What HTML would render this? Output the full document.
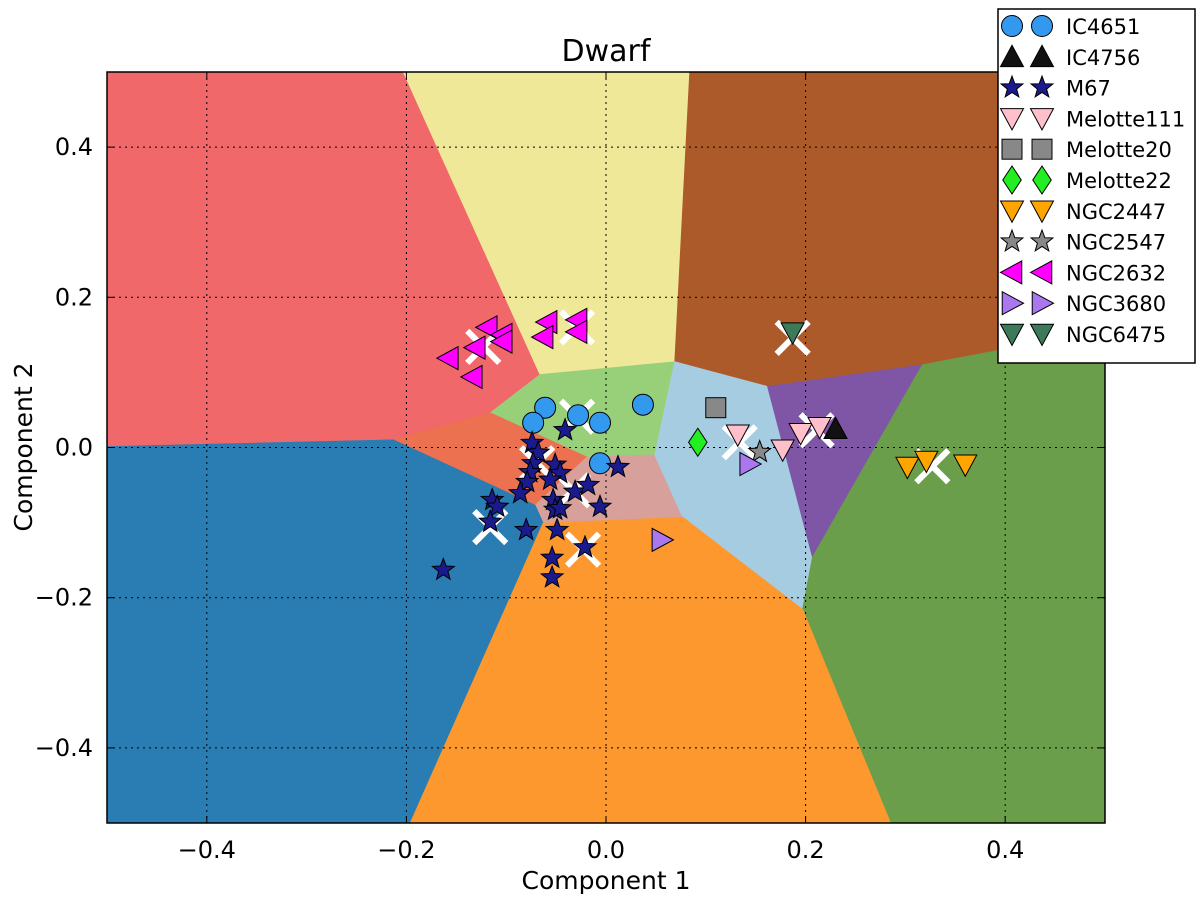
<!DOCTYPE html>
<html><head><meta charset="utf-8"><style>
html,body{margin:0;padding:0;background:#fff;}
svg{display:block;font-family:"DejaVu Sans","Liberation Sans",sans-serif;}
</style></head><body>
<svg id="chart" width="1200" height="899" viewBox="0 0 1200 899"></svg>
<script>
const xTicks=[-0.4,-0.2,0.0,0.2,0.4];
const yTicks=[-0.4,-0.2,0.0,0.2,0.4];
const xTickLabels=["\u22120.4","\u22120.2","0.0","0.2","0.4"];
const yTickLabels=["\u22120.4","\u22120.2","0.0","0.2","0.4"];
const regionNames=["red","yellow","brown","light-green","dark-orange","rosy","light-blue","purple","olive","blue","orange"];
const regionColors=["#f0686a","#f0e899","#ad5a2a","#98d07a","#ec7150","#d8a09a","#a6cce2","#7f55a6","#6a9e4a","#2a7db2","#fd982e"];
const regionVerts=[
 [[-0.5,0.5],[-0.203,0.5],[-0.066,0.097],[-0.116,0.046],[-0.213,0.010],[-0.5,0.001]],
 [[-0.203,0.5],[0.084,0.5],[0.069,0.114],[-0.066,0.097]],
 [[0.084,0.5],[0.5,0.5],[0.5,0.156],[0.317,0.110],[0.162,0.081],[0.069,0.114]],
 [[-0.066,0.097],[0.069,0.114],[0.049,-0.010],[-0.019,-0.013],[-0.116,0.046]],
 [[-0.213,0.010],[-0.116,0.046],[-0.019,-0.013],[-0.071,-0.077]],
 [[-0.019,-0.013],[0.049,-0.010],[0.077,-0.093],[-0.063,-0.101],[-0.071,-0.077]],
 [[0.069,0.114],[0.162,0.081],[0.207,-0.146],[0.197,-0.216],[0.077,-0.093],[0.049,-0.010]],
 [[0.162,0.081],[0.317,0.110],[0.207,-0.146]],
 [[0.317,0.110],[0.5,0.156],[0.5,-0.5],[0.285,-0.5],[0.197,-0.216],[0.207,-0.146]],
 [[-0.5,0.001],[-0.213,0.010],[-0.071,-0.077],[-0.063,-0.101],[-0.196,-0.5],[-0.5,-0.5]],
 [[-0.063,-0.101],[0.077,-0.093],[0.197,-0.216],[0.285,-0.5],[-0.196,-0.5]]
];
const seriesNames=["IC4651","IC4756","M67","Melotte111","Melotte20","Melotte22","NGC2447","NGC2547","NGC2632","NGC3680","NGC6475"];
const seriesShapes=["circle","tri-up","star","tri-down","square","diamond","tri-down","star","tri-left","tri-right","tri-down"];
const seriesColors=["#3399ee","#111111","#1a1a8c","#ffc0cb","#888888","#22ee22","#ffa500","#888888","#ff00ff","#aa77ee","#3d7a5a"];
const ic4651X=[-0.061,-0.073,-0.028,-0.006,0.037,-0.006];
const ic4651Y=[0.053,0.033,0.043,0.033,0.057,-0.021];
const ic4756X=[0.230];
const ic4756Y=[0.025];
const m67X=[-0.041,-0.074,-0.068,-0.073,-0.076,-0.079,-0.086,-0.051,-0.046,-0.056,-0.031,-0.018,-0.006,0.012,-0.053,-0.051,-0.046,-0.049,-0.021,-0.054,-0.054,-0.114,-0.109,-0.116,-0.080,-0.163];
const m67Y=[0.023,0.006,-0.007,-0.021,-0.033,-0.046,-0.061,-0.023,-0.034,-0.043,-0.059,-0.050,-0.079,-0.026,-0.070,-0.083,-0.081,-0.110,-0.133,-0.147,-0.173,-0.070,-0.079,-0.099,-0.110,-0.163];
const mel111X=[0.132,0.177,0.195,0.214];
const mel111Y=[0.017,-0.003,0.019,0.027];
const mel20X=[0.110];
const mel20Y=[0.053];
const mel22X=[0.092];
const mel22Y=[0.007];
const ngc2447X=[0.302,0.321,0.360];
const ngc2447Y=[-0.026,-0.018,-0.023];
const ngc2547X=[0.154];
const ngc2547Y=[-0.006];
const ngc2632X=[-0.119,-0.104,-0.104,-0.131,-0.158,-0.134,-0.059,-0.063,-0.029,-0.029];
const ngc2632Y=[0.160,0.150,0.141,0.133,0.119,0.094,0.167,0.147,0.170,0.154];
const ngc3680X=[0.144,0.056];
const ngc3680Y=[-0.022,-0.123];
const ngc6475X=[0.187];
const ngc6475Y=[0.153];
const centerX=[-0.123,-0.029,-0.029,-0.069,-0.116,-0.023,-0.033,0.134,0.211,0.187,0.327];
const centerY=[0.134,0.160,0.041,-0.021,-0.106,-0.136,-0.057,0.007,0.023,0.146,-0.025];

const seriesX=[ic4651X,ic4756X,m67X,mel111X,mel20X,mel22X,ngc2447X,ngc2547X,ngc2632X,ngc3680X,ngc6475X];
const seriesY=[ic4651Y,ic4756Y,m67Y,mel111Y,mel20Y,mel22Y,ngc2447Y,ngc2547Y,ngc2632Y,ngc3680Y,ngc6475Y];
const drawOrder=[8,0,2,3,4,5,6,7,9,10,1];

const L=107,R=1105,T=72,B=823;
const sx=v=>L+(v+0.5)*(R-L);
const sy=v=>B-(v+0.5)*(B-T);
const NS="http://www.w3.org/2000/svg";
const svg=document.getElementById('chart');
function mk(tag,attrs,parent){const e=document.createElementNS(NS,tag);for(const k in attrs)e.setAttribute(k,attrs[k]);(parent||svg).appendChild(e);return e;}

const clip=mk('clipPath',{id:'plotclip'});
mk('rect',{x:L,y:T,width:R-L,height:B-T},clip);

const gReg=mk('g',{'clip-path':'url(#plotclip)'});


regionVerts.forEach((poly,i)=>{
 const p=mk('polygon',{points:poly.map(v=>sx(v[0])+','+sy(v[1])).join(' '),fill:regionColors[i],stroke:regionColors[i],'stroke-width':1},gReg);
 
 
});

const gGrid=mk('g',{});


xTicks.forEach(t=>{mk('line',{x1:sx(t),x2:sx(t),y1:T,y2:B,stroke:'#000','stroke-width':1,'stroke-dasharray':'2,4'},gGrid);});
yTicks.forEach(t=>{mk('line',{x1:L,x2:R,y1:sy(t),y2:sy(t),stroke:'#000','stroke-width':1,'stroke-dasharray':'2,4'},gGrid);});

function star(cx,cy,r){let pts=[];for(let i=0;i<10;i++){const a=-Math.PI/2+i*Math.PI/5;const rr=i%2?r*0.42:r;pts.push((cx+rr*Math.cos(a)).toFixed(1)+','+(cy+rr*Math.sin(a)).toFixed(1));}return pts.join(' ');}
function marker(shape,cx,cy,color,parent,s){
 s=s||1;let e;const st={fill:color,stroke:'#000','stroke-width':1};
 if(shape==='circle'){e=mk('circle',Object.assign({cx,cy,r:10.5*s},st),parent);}
 else if(shape==='square'){e=mk('rect',Object.assign({x:cx-10*s,y:cy-10*s,width:20*s,height:20*s},st),parent);}
 else if(shape==='star'){e=mk('polygon',Object.assign({points:star(cx,cy,11.5*s)},st),parent);}
 else{let p;const r=11.5*s;
  if(shape==='diamond'){const d=14*s;p=[[0,-d],[d*0.66,0],[0,d],[-d*0.66,0]];}
  else if(shape==='tri-up')p=[[0,-r],[r,r*0.85],[-r,r*0.85]];
  else if(shape==='tri-down')p=[[0,r],[r,-r*0.85],[-r,-r*0.85]];
  else if(shape==='tri-left')p=[[-r,0],[r*0.85,-r],[r*0.85,r]];
  else p=[[r,0],[-r*0.85,-r],[-r*0.85,r]];
  e=mk('polygon',Object.assign({points:p.map(q=>(cx+q[0])+','+(cy+q[1])).join(' ')},st),parent);}
 return e;
}

const gCent=mk('g',{'clip-path':'url(#plotclip)'});


centerX.forEach((x,i)=>{
 const cx=sx(x),cy=sy(centerY[i]),h=16;
 const g=mk('g',{},gCent);
 
 
 mk('line',{x1:cx-h,y1:cy-h,x2:cx+h,y2:cy+h,stroke:'#fff','stroke-width':6},g);
 mk('line',{x1:cx-h,y1:cy+h,x2:cx+h,y2:cy-h,stroke:'#fff','stroke-width':6},g);
});

const gPts=mk('g',{'clip-path':'url(#plotclip)'});


drawOrder.forEach(si=>{
 const g=mk('g',{},gPts);
 
 
 seriesX[si].forEach((x,j)=>{
  const m=marker(seriesShapes[si],sx(x),sy(seriesY[si][j]),seriesColors[si],g);
  
  
 });
});

const frame=mk('rect',{x:L,y:T,width:R-L,height:B-T,fill:'none',stroke:'#000','stroke-width':1.5});



const gX=mk('g',{});


xTicks.forEach((t,i)=>{
 mk('line',{x1:sx(t),x2:sx(t),y1:B,y2:B-7,stroke:'#000'},gX);
 mk('line',{x1:sx(t),x2:sx(t),y1:T,y2:T+7,stroke:'#000'},gX);
 const tx=mk('text',{x:sx(t),y:B+35,'text-anchor':'middle','font-size':24},gX);
 tx.textContent=xTickLabels[i];
 
 
});
const gY=mk('g',{});


yTicks.forEach((t,i)=>{
 mk('line',{x1:L,x2:L+7,y1:sy(t),y2:sy(t),stroke:'#000'},gY);
 mk('line',{x1:R,x2:R-7,y1:sy(t),y2:sy(t),stroke:'#000'},gY);
 const tx=mk('text',{x:L-14,y:sy(t)+8,'text-anchor':'end','font-size':24},gY);
 tx.textContent=yTickLabels[i];
 
 
});
</script>
<svg width="1200" height="899" style="position:absolute;left:0;top:0;font-family:'DejaVu Sans','Liberation Sans',sans-serif;">
 <text x="606" y="61" text-anchor="middle" font-size="30">Dwarf</text>
 <text x="606" y="889" text-anchor="middle" font-size="25">Component 1</text>
 <text x="0" y="0" transform="translate(32,447) rotate(-90)" text-anchor="middle" font-size="25">Component 2</text>
</svg>
<svg id="legend" width="1200" height="899" style="position:absolute;left:0;top:0;font-family:'DejaVu Sans','Liberation Sans',sans-serif;"></svg>
<script>
(function(){
 const lg=document.getElementById('legend');
 const box=document.createElementNS(NS,'rect');
 box.setAttribute('x',998);box.setAttribute('y',9);box.setAttribute('width',197);box.setAttribute('height',354);
 box.setAttribute('fill','#fff');box.setAttribute('stroke','#000');box.setAttribute('stroke-width',1.5);
 
 
 lg.appendChild(box);
 seriesNames.forEach((n,i)=>{
  const y=26+i*30.8;
  const g=document.createElementNS(NS,'g');
  
  
  lg.appendChild(g);
  marker(seriesShapes[i],1012,y,seriesColors[i],g);
  marker(seriesShapes[i],1042,y,seriesColors[i],g);
  const t=document.createElementNS(NS,'text');
  t.setAttribute('x',1066);t.setAttribute('y',y+8);t.setAttribute('font-size',21);
  t.textContent=n;
  g.appendChild(t);
 });
})();
</script>
</body></html>
